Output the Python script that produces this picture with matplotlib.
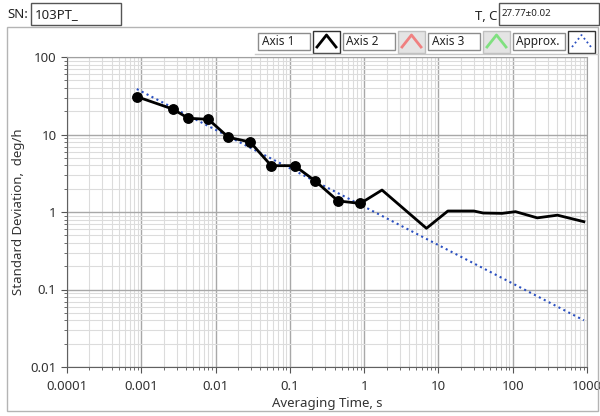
import matplotlib
matplotlib.use('Agg')
import matplotlib.pyplot as plt
from matplotlib.patches import Rectangle
from matplotlib.lines import Line2D
from matplotlib.ticker import LogLocator, FuncFormatter, NullFormatter

plt.rcParams['font.family'] = ['Noto Sans', 'DejaVu Sans']

# измеренные точки (с маркерами)
tau_pts = [0.00087, 0.00265, 0.0043, 0.0080, 0.0149, 0.0292, 0.0561, 0.1156, 0.22, 0.445, 0.889]
sd_pts = [30.8, 21.3, 16.2, 15.7, 9.2, 8.0, 3.96, 3.96, 2.51, 1.39, 1.29]
# хвост без маркеров
tau_tail = [1.74, 6.9, 13.4, 30, 40, 72, 109, 214, 400, 908]
sd_tail = [1.92, 0.616, 1.03, 1.03, 0.97, 0.96, 1.01, 0.84, 0.91, 0.75]
# аппроксимация
tau_fit = [0.00087, 908]
sd_fit = [38.6, 0.040]

sn_text = '103PT_'
temp_text = '27.77±0.02'
legend_names = ['Axis 1', 'Axis 2', 'Axis 3', 'Approx.']
legend_colors = ['black', '#f08080', '#80e080', '#2a4fc0']

W, H = 600, 416
fig = plt.figure(figsize=(W / 100, H / 100), dpi=100)


def fx(x):
    return x / W


def fy(y):
    return 1 - y / H


def box(x0, y0, x1, y1, ec='#8c8c8c', fc='white', lw=1.0):
    fig.add_artist(Rectangle((fx(x0), fy(y1)), fx(x1) - fx(x0), fy(y0) - fy(y1),
                             transform=fig.transFigure, ec=ec, fc=fc, lw=lw))


# внешняя рамка панели
box(7, 27, 598, 411, ec='#b4b4b4', fc='none')

# шапка
fig.text(fx(7), fy(15), 'SN:', fontsize=9.5, va='center', ha='left', color='#222222')
box(31, 3, 121, 25, ec='#555555')
fig.text(fx(35), fy(15), sn_text, fontsize=9.5, va='center', ha='left', color='#222222')
fig.text(fx(497), fy(16), 'T, C', fontsize=9.5, va='center', ha='right', color='#222222')
box(499, 3, 599, 25, ec='#555555')
fig.text(fx(502), fy(14), temp_text, fontsize=7, va='center', ha='left', color='#222222')

# легенда
fig.add_artist(Line2D([fx(255), fx(598)], [fy(54), fy(54)], transform=fig.transFigure,
                      color='#c8c8c8', lw=1))
x = 258
for i, (name, col) in enumerate(zip(legend_names, legend_colors)):
    box(x, 33, x + 52, 50, ec='#8c8c8c')
    fig.text(fx(x + 3.5), fy(41.5), name, fontsize=8.5, va='center', ha='left', color='#222222')
    ix = x + 55
    fc = 'white' if i in (0, 3) else '#e4e4e4'
    ec = '#333333' if i in (0, 3) else '#c0c0c0'
    box(ix, 31, ix + 27, 53, ec=ec, fc=fc)
    ls = ':' if i == 3 else '-'
    lw = 1.3 if i == 3 else 2.0
    fig.add_artist(Line2D([fx(ix + 4), fx(ix + 13.5), fx(ix + 23)],
                          [fy(47), fy(35), fy(47)], transform=fig.transFigure,
                          color=col, lw=lw, ls=ls))
    x = ix + 30

# график
ax = fig.add_axes([fx(67), fy(367), fx(587) - fx(67), fy(57) - fy(367)])
ax.set_xscale('log')
ax.set_yscale('log')
ax.set_xlim(0.0001, 1000)
ax.set_ylim(0.01, 100)

ax.plot(tau_fit, sd_fit, ls=':', color='#2a4fc0', lw=1.5, zorder=3)
ax.plot(tau_pts + tau_tail, sd_pts + sd_tail, color='black', lw=2.0, zorder=4)
ax.plot(tau_pts, sd_pts, 'o', color='black', ms=6.8, zorder=5)

ax.xaxis.set_major_locator(LogLocator(base=10, numticks=20))
ax.yaxis.set_major_locator(LogLocator(base=10, numticks=20))
ax.xaxis.set_minor_locator(LogLocator(base=10, subs=range(2, 10), numticks=100))
ax.yaxis.set_minor_locator(LogLocator(base=10, subs=range(2, 10), numticks=100))
fmt = FuncFormatter(lambda v, p: '%g' % v)
ax.xaxis.set_major_formatter(fmt)
ax.yaxis.set_major_formatter(fmt)
ax.xaxis.set_minor_formatter(NullFormatter())
ax.yaxis.set_minor_formatter(NullFormatter())

ax.grid(True, which='major', color='#a8a8a8', lw=1.0)
ax.grid(True, which='minor', color='#dcdcdc', lw=0.8)
ax.set_axisbelow(True)

ax.tick_params(which='both', direction='out', colors='#555555', labelcolor='#333333',
               labelsize=9.5)
ax.tick_params(which='major', length=4)
ax.tick_params(which='minor', length=2.5)
ax.tick_params(axis='x', pad=5)
for s in ['top', 'right']:
    ax.spines[s].set_color('#a0a0a0')
for s in ['left', 'bottom']:
    ax.spines[s].set_color('#606060')

ax.set_xlabel('Averaging Time, s', fontsize=9.5, color='#333333', labelpad=3)
ax.set_ylabel('Standard Deviation,  deg/h', fontsize=9.5, color='#333333', labelpad=4)

fig.savefig('out.png', dpi=100)
